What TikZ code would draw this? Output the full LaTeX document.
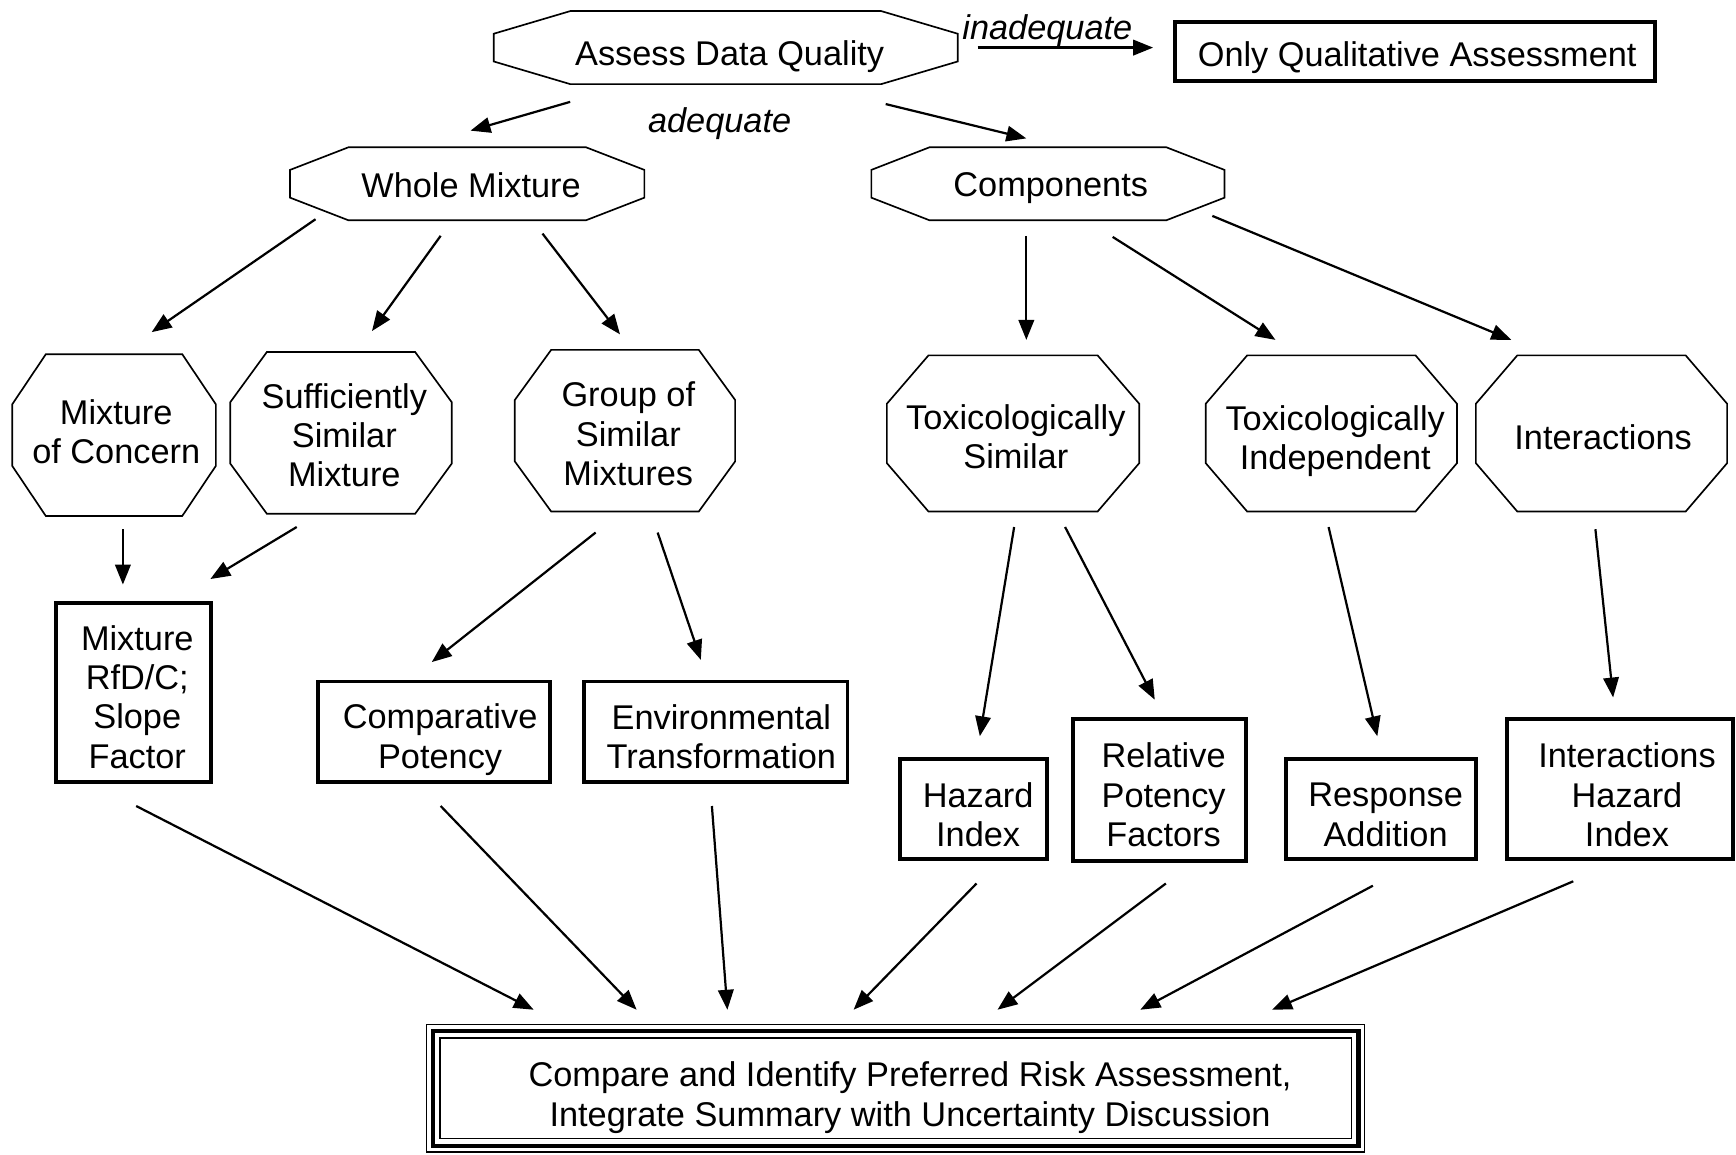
\documentclass[tikz,border=0pt]{standalone}
\usepackage{fontspec}
\setmainfont{Liberation Sans}
\usetikzlibrary{arrows.meta,calc}
% #1 name, #2 x, #3 y, #4 width, #5 height
\newcommand\octshape[5]{%
  \node[octnode, minimum width=#4pt, minimum height=#5pt] (#1) at (#2,#3) {};
  \pgfmathsetmacro\oca{0.165*#4}\pgfmathsetmacro\ocb{0.19*#5}%
  \draw[octline] ([xshift=\oca pt]#1.north west) -- ([xshift=-\oca pt]#1.north east)
    -- ([yshift=\ocb pt]#1.east) -- ([yshift=-\ocb pt]#1.east)
    -- ([xshift=-\oca pt]#1.south east) -- ([xshift=\oca pt]#1.south west)
    -- ([yshift=-\ocb pt]#1.west) -- ([yshift=\ocb pt]#1.west) -- cycle;
}
\begin{document}
\begin{tikzpicture}[x=1pt,y=-1pt,
  every node/.style={font=\fontsize{31}{35.5}\selectfont, align=center, inner sep=0pt, outer sep=0pt},
  octnode/.style={rectangle},
  octline/.style={line width=1.5pt, line join=miter},
  boxnode/.style={draw, line width=3.5pt, rectangle},
  txt/.style={},
  arr/.style={line width=2pt, -{Triangle[length=18pt,width=14pt]}},
  lab/.style={font=\fontsize{31}{35.5}\selectfont\itshape}
]
\useasboundingbox (0,0) rectangle (1568,1043);

% top level
\octshape{assess}{655.5}{43}{419}{66}
\node[txt] (assess-t) at ($(assess)+(3.5,8)$) {Assess Data Quality};
\node[boxnode, minimum width=433pt, minimum height=54pt] (only) at (1278,46.5) {};
\node[txt] (only-t) at ($(only)+(2,6)$) {Only Qualitative Assessment};
\node[lab] (inad) at (946,28) {inadequate};
\node[lab] (adeq) at (650,112) {adequate};

% second level
\octshape{wm}{422}{166}{320}{66}
\node[txt] (wm-t) at ($(wm)+(3.5,1)$) {Whole Mixture};
\octshape{comp}{946.5}{166}{319}{66}
\node[txt] (comp-t) at ($(comp)+(2.5,4)$) {Components};

% third level
\octshape{moc}{103}{393}{184}{146}
\node[txt] (moc-t) at ($(moc)+(2,-3)$) {Mixture\\of Concern};
\octshape{ssm}{308}{391}{200}{146}
\node[txt] (ssm-t) at ($(ssm)+(3,2)$) {Sufficiently\\Similar\\Mixture};
\octshape{gsm}{564.5}{389}{199}{146}
\node[txt] (gsm-t) at ($(gsm)+(3,3)$) {Group of\\Similar\\Mixtures};
\octshape{ts}{915}{391.5}{228}{141}
\node[txt] (ts-t) at ($(ts)+(2.5,3)$) {Toxicologically\\Similar};
\octshape{ti}{1202.5}{391.5}{227}{141}
\node[txt] (ti-t) at ($(ti)+(3.5,7)$) {Toxicologically\\Independent};
\octshape{inter}{1446.5}{391.5}{227}{141}
\node[txt] (inter-t) at ($(inter)+(1.5,3)$) {Interactions};

% fourth level
\node[boxnode, minimum width=140pt, minimum height=162pt] (rfd) at (120.5,625.5) {};
\node[txt] (rfd-t) at ($(rfd)+(3.5,4)$) {Mixture\\RfD/C;\\Slope\\Factor};
\node[boxnode, minimum width=209pt, minimum height=91pt] (cp) at (392,661) {};
\node[txt] (cp-t) at ($(cp)+(5.5,7)$) {Comparative\\Potency};
\node[boxnode, minimum width=238pt, minimum height=91pt] (et) at (646.5,661) {};
\node[txt] (et-t) at ($(et)+(5,4.5)$) {Environmental\\Transformation};
\node[boxnode, minimum width=133pt, minimum height=90pt] (hi) at (879,730.5) {};
\node[txt] (hi-t) at ($(hi)+(4.5,5.5)$) {Hazard\\Index};
\node[boxnode, minimum width=156pt, minimum height=128pt] (rpf) at (1047.5,713.5) {};
\node[txt] (rpf-t) at ($(rpf)+(3.5,4.5)$) {Relative\\Potency\\Factors};
\node[boxnode, minimum width=172pt, minimum height=90pt] (ra) at (1247.5,730.5) {};
\node[txt] (ra-t) at ($(ra)+(4,5.5)$) {Response\\Addition};
\node[boxnode, minimum width=204pt, minimum height=126pt] (ihi) at (1463.5,712.5) {};
\node[txt] (ihi-t) at ($(ihi)+(6,5.5)$) {Interactions\\Hazard\\Index};

% final
\node[draw, line width=4pt, minimum width=836pt, minimum height=104pt] (final) at (809,983) {};
\draw[line width=1.2pt] ($(final.north west)+(-5.5,-5.5)$) rectangle ($(final.south east)+(5.5,5.5)$);
\draw[line width=1.2pt] ($(final.north west)+(6.5,6.5)$) rectangle ($(final.south east)+(-6.5,-6.5)$);
\node[txt] (final-t) at ($(final)+(13,8.5)$) {Compare and Identify Preferred Risk Assessment,\\Integrate Summary with Uncertainty Discussion};

% arrows
\draw[arr] ($(assess.east)+(18,0)$) -- ($(only.west)+(-20,-3.5)$);
\draw[arr] ($(assess)+(-140.5,49)$) -- ($(wm)+(3,-48)$);
\draw[arr] ($(assess)+(144.5,51)$) -- ($(comp)+(-19.5,-41)$);

\draw[arr] ($(wm)+(-137,32)$) -- ($(moc)+(34,-93)$);
\draw[arr] ($(wm)+(-24,47)$) -- ($(ssm)+(28,-92)$);
\draw[arr] ($(wm)+(68,45)$) -- ($(gsm)+(-4.5,-87)$);

\draw[arr] ($(comp)+(-19.5,47)$) -- ($(ts)+(12,-84.5)$);
\draw[arr] ($(comp)+(58.5,48)$) -- ($(ti)+(-50.5,-84.5)$);
\draw[arr] ($(comp)+(148.5,29)$) -- ($(inter)+(-81.5,-84.5)$);

\draw[arr] ($(moc)+(8,85)$) -- ($(rfd)+(-9.5,-97.5)$);
\draw[arr] ($(ssm)+(-40,85)$) -- ($(rfd)+(69.5,-102.5)$);
\draw[arr] ($(gsm)+(-26.5,92)$) -- ($(cp)+(-2,-63)$);
\draw[arr] ($(gsm)+(29.5,92)$) -- ($(et)+(-13.5,-65)$);
\draw[arr] ($(ts)+(1,84.5)$) -- ($(hi)+(6,-65.5)$);
\draw[arr] ($(ts)+(47,84.5)$) -- ($(rpf)+(-4.5,-81.5)$);
\draw[arr] ($(ti)+(-2.5,84.5)$) -- ($(ra)+(-3.5,-65.5)$);
\draw[arr] ($(inter)+(-5.5,86.5)$) -- ($(ihi)+(-6.5,-82.5)$);

\draw[arr] ($(rfd)+(2.5,102.5)$) -- ($(final)+(-327,-71)$);
\draw[arr] ($(cp)+(6,67)$) -- ($(final)+(-234,-71)$);
\draw[arr] ($(et)+(-3.5,67)$) -- ($(final)+(-152,-71)$);
\draw[arr] ($(hi)+(3,67.5)$) -- ($(final)+(-38,-71)$);
\draw[arr] ($(rpf)+(5.5,84.5)$) -- ($(final)+(92,-71)$);
\draw[arr] ($(ra)+(-7.5,69.5)$) -- ($(final)+(221,-71)$);
\draw[arr] ($(ihi)+(-42.5,83.5)$) -- ($(final)+(340,-71)$);
\end{tikzpicture}
\end{document}
